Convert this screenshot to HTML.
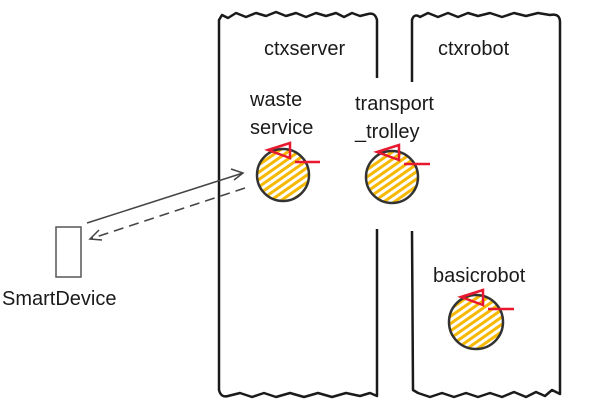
<!DOCTYPE html>
<html><head><meta charset="utf-8"><style>
body{margin:0;background:#fff}
svg text{font-family:"Liberation Sans",sans-serif;font-size:20px;fill:#1a1a1a}
</style></head><body>
<svg width="598" height="407" viewBox="0 0 598 407" xmlns="http://www.w3.org/2000/svg">
<defs>
<pattern id="h" width="6" height="6" patternUnits="userSpaceOnUse" patternTransform="rotate(-35)">
<rect width="6" height="6" fill="#fff"/><rect width="6" height="3" fill="#f6b800"/>
</pattern>
</defs>
<g fill="none" stroke="#1a1a1a" stroke-width="2.5" stroke-linejoin="round">
<path d="M377,78 L377,20 Q375,12 368,14 L360,16 L352,13 L344,17 L336,13 L326,16 L316,13 L306,17 L296,13 L286,16 L276,12 L266,16 L256,13 L246,17 L236,13 L228,18 L222,15 L219,20 L219,390 Q221,398 228,396 L240,393 L252,397 L264,393 L276,397 L290,393 L304,397 L318,393 L332,397 L346,393 L360,396 L370,393 L377,396 L377,229"/>
<path d="M412,82 L412,20 Q414,13 420,17 L428,13 L438,17 L448,13 L458,17 L468,13 L478,16 L490,13 L502,17 L514,13 L526,16 L538,13 L550,15 Q560,13 560,22 L560,394 L552,390 L545,396 L536,392 L526,397 L514,392 L502,397 L490,393 L478,397 L466,393 L454,397 L442,393 L430,397 L418,393 L413,390 L412,231"/>
</g>
<g stroke="#333" stroke-width="2.5" fill="url(#h)">
<circle cx="283" cy="175" r="26"/>
<circle cx="392" cy="177" r="26"/>
<circle cx="476" cy="322" r="27"/>
</g>
<g stroke="#e8182e" stroke-width="2.5" fill="none">
<path d="M268,150 L290,143 L290,158 Z"/><path d="M295,162 L320,162"/>
<path d="M377,152 L399,145 L399,160 Z"/><path d="M404,164 L430,164"/>
<path d="M461,297 L483,290 L483,305 Z"/><path d="M488,309 L514,309"/>
</g>
<rect x="56" y="227" width="25" height="50" fill="#fff" stroke="#555" stroke-width="1.5"/>
<g stroke="#444" stroke-width="1.5" fill="none">
<path d="M87,223 L243,173"/><path d="M231,169 L243,173 L234,180"/>
<path d="M245,188 L90,239" stroke-dasharray="10,6"/><path d="M99,230 L90,239 L102,240"/>
</g>
<text x="264" y="55">ctxserver</text>
<text x="438" y="55">ctxrobot</text>
<text x="250" y="106">waste</text>
<text x="250" y="134">service</text>
<text x="355" y="110">transport</text>
<text x="355" y="138">_trolley</text>
<text x="433" y="282">basicrobot</text>
<text x="2" y="305">SmartDevice</text>
</svg>
</body></html>
